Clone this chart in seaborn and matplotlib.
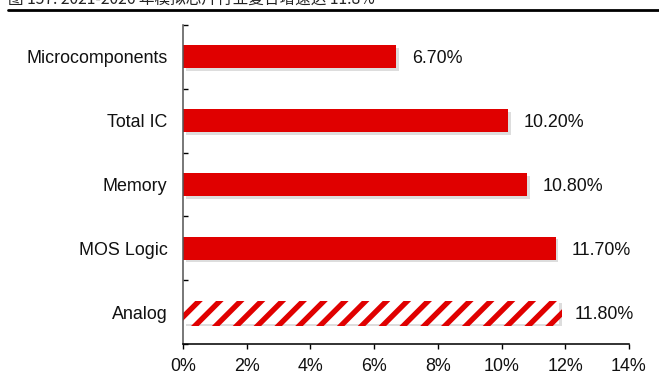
import matplotlib
matplotlib.use("Agg")
import matplotlib.pyplot as plt
import matplotlib.patheffects as pe
from matplotlib.ticker import FixedLocator, FuncFormatter
import seaborn as sns
import pandas as pd

categories = ["Microcomponents", "Total IC", "Memory", "MOS Logic", "Analog"]
growth = [6.7, 10.2, 10.8, 11.7, 11.8]
value_labels = ["6.70%", "10.20%", "10.80%", "11.70%", "11.80%"]
x_ticks = [0, 2, 4, 6, 8, 10, 12, 14]
title = "图 157: 2021-2026 年模拟芯片行业复合增速达 11.8%"

sns.set_theme(style="white")
plt.rcParams["font.family"] = ["Liberation Sans", "Noto Sans CJK SC", "DejaVu Sans"]
plt.rcParams["hatch.linewidth"] = 3.1

RED = "#E00000"
DPI = 125
fig = plt.figure(figsize=(659 / DPI, 392 / DPI), dpi=DPI)
ax = fig.add_axes([183 / 659, 1 - 344 / 392, (629 - 183) / 659, (344 - 25) / 392])

df = pd.DataFrame({"cat": categories, "val": growth})
sns.barplot(data=df, x="val", y="cat", orient="h", color=RED, saturation=1,
            width=0.36, ax=ax)

shadow = [pe.SimplePatchShadow(offset=(1.5, -1.5), shadow_rgbFace="#a0a0a0", alpha=0.35),
          pe.Normal()]
for i, p in enumerate(ax.patches):
    p.set_path_effects(shadow)
    p.set_linewidth(0)
    if categories[i] == "Analog":
        p.set_facecolor("white")
        p.set_edgecolor(RED)
        p.set_hatch("//")

for i, (v, lab) in enumerate(zip(growth, value_labels)):
    ax.annotate(lab, xy=(v, i), xytext=(9, 0), textcoords="offset points",
                va="center_baseline", ha="left", fontsize=10.3, color="#111111")

ax.set_xlim(0, 14)
ax.set_ylim(len(categories) - 0.5, -0.5)
ax.xaxis.set_major_locator(FixedLocator(x_ticks))
ax.xaxis.set_major_formatter(FuncFormatter(lambda x, _: f"{x:.0f}%"))
ax.set_xlabel("")
ax.set_ylabel("")
ax.tick_params(axis="x", direction="out", length=3, width=0.8, color="black",
               labelsize=10.3, pad=5, bottom=True)
ax.tick_params(axis="y", which="major", length=0, labelsize=10.3, pad=9)
ax.yaxis.set_minor_locator(FixedLocator([i - 0.5 for i in range(len(categories) + 1)]))
ax.tick_params(axis="y", which="minor", direction="in", length=3, width=0.8,
               color="black", left=True)
for s in ["top", "right"]:
    ax.spines[s].set_visible(False)
ax.spines["left"].set_color("#555555")
ax.spines["left"].set_linewidth(0.9)
ax.spines["bottom"].set_color("black")
ax.spines["bottom"].set_linewidth(0.9)
for lbl in ax.get_xticklabels() + ax.get_yticklabels():
    lbl.set_color("#111111")

fig.text(8 / 659, 1 - 3.5 / 392, title, ha="left", va="baseline", fontsize=9,
         color="#222222", family=["Noto Sans CJK SC", "DejaVu Sans"])
fig.add_artist(plt.Line2D([8 / 659, 1.0], [1 - 9.5 / 392, 1 - 9.5 / 392],
                          transform=fig.transFigure, color="black", linewidth=1.6))

fig.savefig("out.png", dpi=DPI)
